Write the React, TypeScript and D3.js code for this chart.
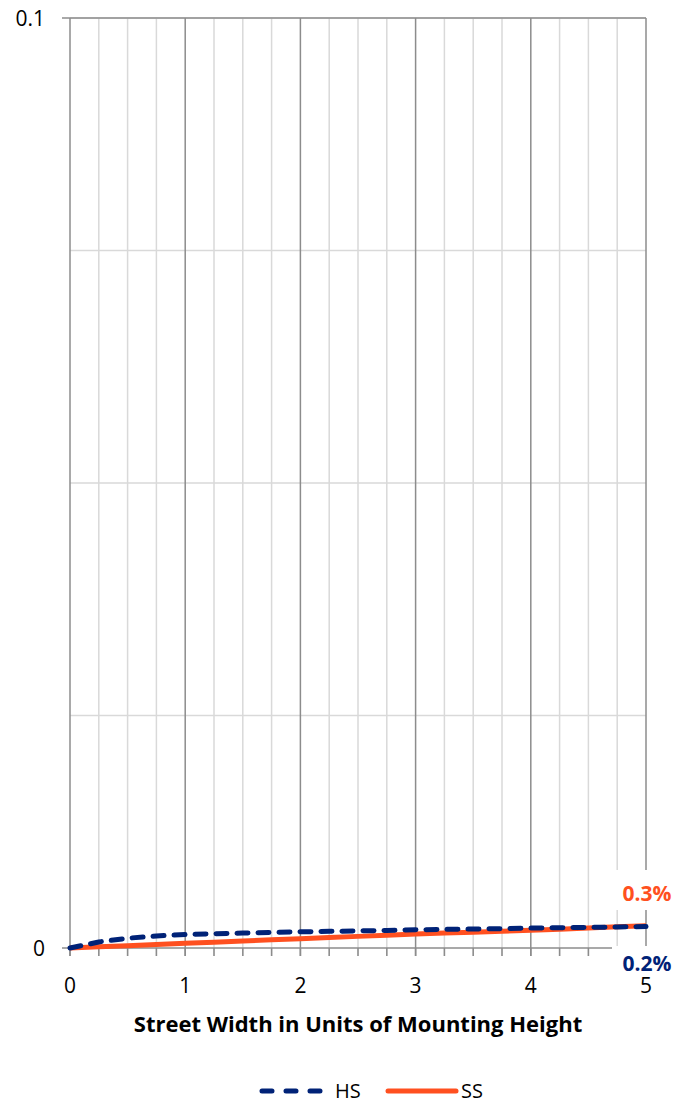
import * as d3 from "d3";

// x positions in units of mounting height
const widths = [0, 0.25, 0.5, 0.75, 1, 1.25, 1.5, 1.75, 2, 2.25, 2.5, 2.75, 3, 3.25, 3.5, 3.75, 4, 4.25, 4.5, 4.75, 5];
const hsValues = [0, 0.00065, 0.00105, 0.0013, 0.00145, 0.00153, 0.0016, 0.00168, 0.00174, 0.00179, 0.00184, 0.00189, 0.00196, 0.002, 0.00204, 0.00208, 0.00214, 0.00218, 0.00222, 0.00226, 0.0023];
const ssValues = [0, 0.00013, 0.00025, 0.00038, 0.0005, 0.00063, 0.00075, 0.00088, 0.001, 0.00113, 0.00125, 0.00138, 0.0015, 0.0016, 0.0017, 0.0018, 0.0019, 0.00202, 0.00215, 0.00228, 0.0024];
const yTickLabels = [0, 0.1];
const xTickLabels = [0, 1, 2, 3, 4, 5];
const endLabels = { hs: "0.2%", ss: "0.3%" };
const seriesNames = ["HS", "SS"];

const NAVY = "#002277";
const ORANGE = "#ff5020";
const DARK = "#8c8c8c";
const LIGHT = "#d9d9d9";
const FONT = "'Open Sans', 'Liberation Sans', sans-serif";

export default function App() {
  const width = 682;
  const height = 1103;
  const marginLeft = 70;
  const marginRight = 36;
  const marginTop = 18;
  const plotBottom = 948;

  const x = d3.scaleLinear().domain([0, 5]).range([marginLeft, width - marginRight]);
  const y = d3.scaleLinear().domain([0, 0.1]).range([plotBottom, marginTop]);

  const line = d3.line<number>()
    .x((d, i) => x(widths[i]))
    .y((d) => y(d));

  const minorX = d3.range(0, 5.001, 0.25);
  const gridY = d3.range(0.025, 0.1, 0.025);

  return (
    <svg width={width} height={height} style={{ position: "absolute", left: 0, top: 0, background: "#fff" }}>
      {/* minor vertical gridlines */}
      {minorX.filter((v) => Math.abs(v - Math.round(v)) > 1e-6).map((v) => (
        <line key={"mx" + v} x1={x(v)} x2={x(v)} y1={y(0.1)} y2={y(0) + 8} stroke={LIGHT} strokeWidth={1.5} />
      ))}
      {/* horizontal gridlines */}
      {gridY.map((v) => (
        <line key={"gy" + v} x1={x(0)} x2={x(5)} y1={y(v)} y2={y(v)} stroke={LIGHT} strokeWidth={1.5} />
      ))}
      {/* major vertical gridlines */}
      {xTickLabels.map((v) => (
        <line key={"Mx" + v} x1={x(v)} x2={x(v)} y1={y(0.1)} y2={y(0) + 8} stroke={DARK} strokeWidth={1.5} />
      ))}
      {/* tick marks below the x axis */}
      {minorX.map((v) => (
        <line key={"t" + v} x1={x(v)} x2={x(v)} y1={y(0)} y2={y(0) + 8} stroke={DARK} strokeWidth={1.5} />
      ))}
      {/* top border and bottom axis */}
      <line x1={x(0) - 8} x2={x(5)} y1={y(0.1)} y2={y(0.1)} stroke={DARK} strokeWidth={1.5} />
      <line x1={x(0) - 8} x2={x(5)} y1={y(0)} y2={y(0)} stroke={DARK} strokeWidth={1.5} />
      {/* white boxes behind end labels */}
      <rect x={612} y={870} width={70} height={40} fill="#fff" />
      <rect x={612} y={946} width={70} height={32} fill="#fff" />

      {/* series */}
      <path d={line(ssValues) ?? ""} fill="none" stroke={ORANGE} strokeWidth={5} strokeLinejoin="round" />
      <path d={line(hsValues) ?? ""} fill="none" stroke={NAVY} strokeWidth={5} strokeDasharray="11 10" strokeLinecap="round" />

      {/* end labels */}
      <text x={647} y={901} textAnchor="middle" fill={ORANGE} fontFamily={FONT} fontWeight="bold" fontSize={21}>{endLabels.ss}</text>
      <text x={647} y={971} textAnchor="middle" fill={NAVY} fontFamily={FONT} fontWeight="bold" fontSize={21}>{endLabels.hs}</text>

      {/* y tick labels */}
      {yTickLabels.map((v) => (
        <text key={"yl" + v} x={45} y={y(v) + 8} textAnchor="end" fontFamily={FONT} fontSize={21} fill="#000">{String(v)}</text>
      ))}
      {/* x tick labels */}
      {xTickLabels.map((v) => (
        <text key={"xl" + v} x={x(v)} y={993} textAnchor="middle" fontFamily={FONT} fontSize={21} fill="#000">{String(v)}</text>
      ))}
      <text x={358} y={1032} textAnchor="middle" fontFamily={FONT} fontWeight="bold" fontSize={22} fill="#000">
        Street Width in Units of Mounting Height
      </text>

      {/* legend */}
      <line x1={262} x2={322} y1={1091} y2={1091} stroke={NAVY} strokeWidth={5} strokeDasharray="10 14" strokeLinecap="round" />
      <text x={335} y={1098} fontFamily={FONT} fontSize={20} fill="#000">{seriesNames[0]}</text>
      <line x1={388} x2={456} y1={1091} y2={1091} stroke={ORANGE} strokeWidth={5} strokeLinecap="round" />
      <text x={461} y={1098} fontFamily={FONT} fontSize={20} fill="#000">{seriesNames[1]}</text>
    </svg>
  );
}
